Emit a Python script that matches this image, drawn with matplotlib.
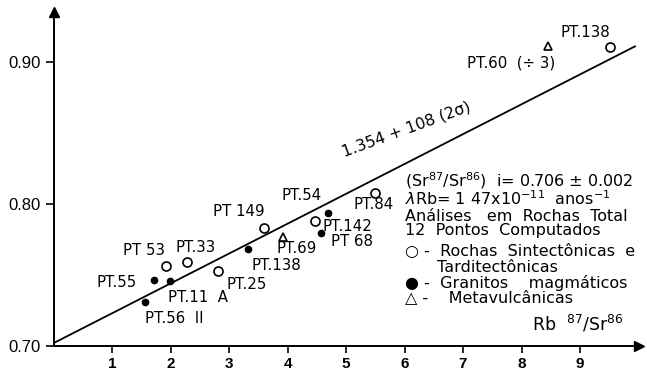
import numpy as np
import matplotlib.pyplot as plt

plt.rcParams['font.family'] = ['DejaVu Sans']

# data: Rb87/Sr86 vs Sr87/Sr86
circ_x = [1.92, 2.29, 2.82, 3.60, 4.47, 5.50, 9.51]
circ_y = [0.756, 0.7594, 0.753, 0.7833, 0.788, 0.808, 0.9106]
dot_x = [1.56, 1.72, 1.99, 3.33, 4.57, 4.69]
dot_y = [0.7312, 0.7465, 0.746, 0.768, 0.7794, 0.794]
tri_x = [3.92, 8.45]
tri_y = [0.777, 0.911]

# isochron line
line_x = [0.0, 9.94]
line_y = [0.702, 0.911]

labels = ['PT.55', 'PT 53', 'PT.33', 'PT 149', 'PT.54', 'PT.69', 'PT.138',
          'PT.25', 'PT.11  A', 'PT.56  II', 'PT.142', 'PT 68', 'PT.84',
          'PT.138', 'PT.60  (÷ 3)']
label_x = [0.74, 1.19, 2.08, 2.73, 3.90, 3.82, 3.39, 2.96, 1.96, 1.56, 4.60,
           4.74, 5.12, 8.66, 7.07]
label_y = [0.745, 0.7676, 0.7697, 0.7944, 0.8063, 0.769, 0.757, 0.743, 0.734,
           0.7197, 0.7845, 0.7738, 0.7993, 0.921, 0.899]

xticks = [1, 2, 3, 4, 5, 6, 7, 8, 9]
yticks = [0.70, 0.80, 0.90]
ytick_labels = ['0.70', '0.80', '0.90']

W, H = 647, 371
fig = plt.figure(figsize=(W / 100, H / 100), dpi=100)
ax = fig.add_axes([53.5 / W, 25 / H, 585 / W, 333.7 / H])
ax.set_xlim(0, 10.0)
ax.set_ylim(0.70, 0.935)

ax.plot(line_x, line_y, color='black', lw=1.3)
ax.plot(circ_x, circ_y, 'o', mfc='white', mec='black', mew=1.2, ms=6.5, ls='none')
ax.plot(dot_x, dot_y, 'o', color='black', ms=4.5, ls='none')
ax.plot(tri_x, tri_y, '^', mfc='white', mec='black', mew=1.2, ms=6, ls='none')

for t, x, y in zip(labels, label_x, label_y):
    ax.text(x, y, t, fontsize=10.8, ha='left', va='center')

ax.text(6.03, 0.853, '1.354 + 108 (2σ)', fontsize=11.3, rotation=20,
        rotation_mode='anchor', ha='center', va='center')

ax.spines['top'].set_visible(False)
ax.spines['right'].set_visible(False)
ax.spines['left'].set_linewidth(1.4)
ax.spines['bottom'].set_linewidth(1.4)
ax.plot(1, 0, '>k', ms=7, transform=ax.transAxes, clip_on=False)
ax.plot(0, 1, '^k', ms=7, transform=ax.transAxes, clip_on=False)

ax.set_xticks(xticks)
ax.set_xticklabels([str(v) for v in xticks], fontsize=11, fontweight='bold',
                   family='Liberation Sans')
ax.set_yticks(yticks)
ax.set_yticklabels(ytick_labels, fontsize=12, family='Liberation Sans')
ax.tick_params(axis='x', direction='out', length=5, width=1.2, pad=3)
ax.tick_params(axis='y', direction='out', length=6, width=1.2, pad=3)

# text block on the right
def ftext(px, py, s, size=11.5, **kw):
    fig.text(px / W, 1 - py / H, s, fontsize=size, va='center', ha='left', **kw)

ftext(405, 181, r'(Sr$^{87}$/Sr$^{86}$)  i= 0.706 $\pm$ 0.002')
ftext(405, 199, r'$\lambda$Rb= 1 47x10$^{-11}$  anos$^{-1}$')
ftext(405, 216, 'Análises   em  Rochas  Total')
ftext(405, 230, '12  Pontos  Computados')
ftext(405, 251, '○ -  Rochas  Sintectônicas  e')
ftext(437, 267, 'Tarditectônicas')
ftext(405, 283, '● -  Granitos    magmáticos')
ftext(405, 298, '△ -    Metavulcânicas')
ftext(532, 324, r'Rb  $^{87}$/Sr$^{86}$', size=12.5)

fig.savefig('out.png', dpi=100)
